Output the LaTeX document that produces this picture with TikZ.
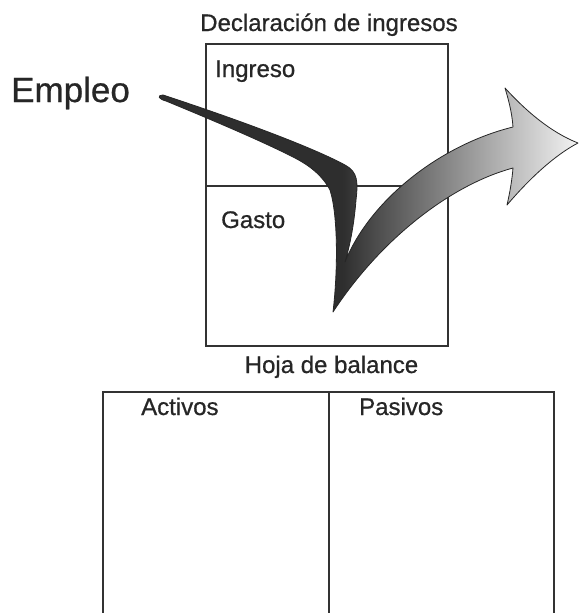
\documentclass[tikz,border=0pt]{standalone}
\usepackage{fontspec}
\setmainfont{Liberation Sans}
\newfontfamily\scanfont{Liberation Sans}[FakeBold=0.7]
\pgfdeclarehorizontalshading{arrowshade}{100bp}{color(0bp)=(black!82); color(47bp)=(black!82); color(51bp)=(black!70); color(75bp)=(black!5); color(100bp)=(black!5)}
\begin{document}
\begin{tikzpicture}[x=1pt,y=-1pt,
  boxline/.style={draw=black!80,line width=1.3pt},
  lbl/.style={inner sep=0pt,text=black!85,font=\scanfont\fontsize{24}{28}\selectfont},
  biglbl/.style={inner sep=0pt,text=black!85,font=\scanfont\fontsize{35}{40}\selectfont}]
\useasboundingbox (0,0) rectangle (579,613);
\fill[white] (0,0) rectangle (579,613);
% income statement box
\draw[boxline] (206,44) rectangle (448,346);
\draw[boxline] (206,186) -- (448,186);
% balance sheet box
\draw[boxline] (103,613) -- (103,392) -- (554,392) -- (554,613);
\draw[boxline] (329,392) -- (329,613);
% labels
\node[lbl,anchor=base] (title) at (329,31) {Declaración de ingresos};
\node[lbl,anchor=base west] (ingreso) at (215,77) {Ingreso};
\node[lbl,anchor=base west] (gasto) at (221,228) {Gasto};
\node[biglbl,anchor=base west] (empleo) at (11,102) {Empleo};
\node[lbl,anchor=base] (hoja) at (331.5,373) {Hoja de balance};
\node[lbl,anchor=base west] (activos) at (141,415) {Activos};
\node[lbl,anchor=base west] (pasivos) at (359,415) {Pasivos};
% swoosh arrow
\path[shading=arrowshade,draw=black!85,line width=0.8pt,line join=round]
  (163,95) .. controls (230,117) and (310,146) .. (345,165)
  .. controls (358,172) and (358,182) .. (356,200)
  .. controls (354,225) and (350,245) .. (345,262)
  .. controls (370,200) and (440,145) .. (513,127)
  .. controls (512,112) and (508,98) .. (505,88)
  .. controls (525,110) and (550,132) .. (578,143)
  .. controls (555,155) and (530,178) .. (507,205)
  .. controls (510,192) and (512,180) .. (513,168)
  .. controls (450,185) and (380,240) .. (333,312)
  .. controls (338,270) and (338,215) .. (330,190)
  .. controls (322,175) and (310,166) .. (295,158)
  .. controls (260,140) and (200,115) .. (166,101)
  .. controls (158,99) and (157,95) .. (163,95) -- cycle;
\end{tikzpicture}
\end{document}
